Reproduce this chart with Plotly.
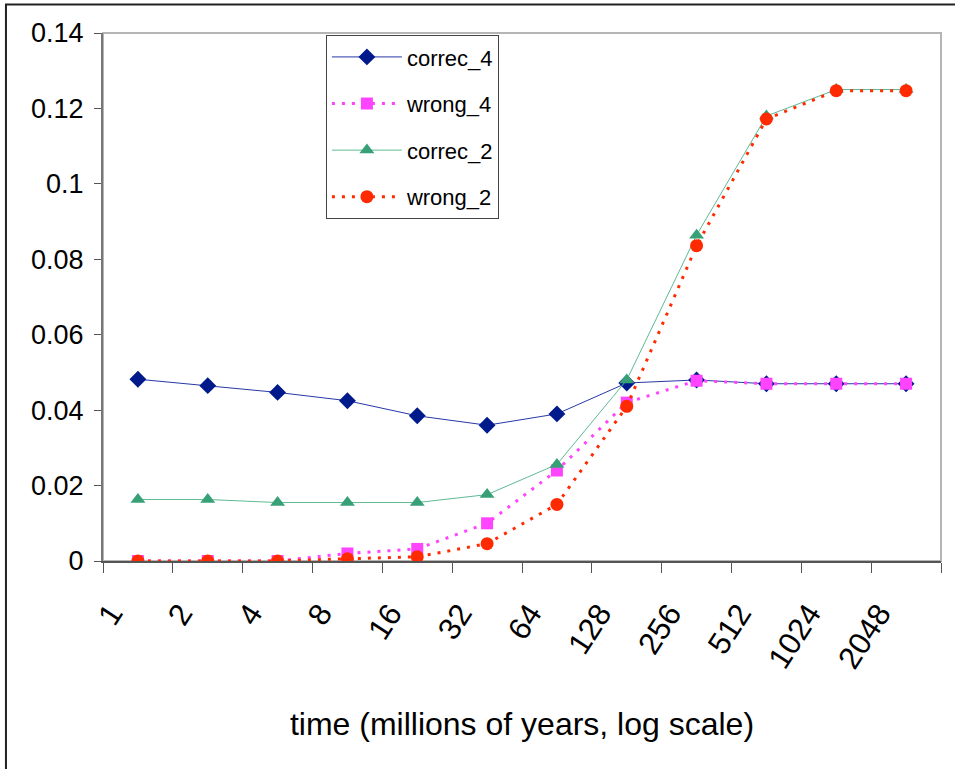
import plotly.graph_objects as go

categories = ["1", "2", "4", "8", "16", "32", "64", "128", "256", "512", "1024", "2048"]
correc_4 = [0.0482, 0.0465, 0.0447, 0.0425, 0.0385, 0.0360, 0.0390, 0.0472, 0.0480, 0.0470, 0.0470, 0.0470]
wrong_4 = [0.0, 0.0, 0.0, 0.0020, 0.0032, 0.0100, 0.0240, 0.0420, 0.0478, 0.0470, 0.0470, 0.0470]
correc_2 = [0.0163, 0.0163, 0.0155, 0.0155, 0.0155, 0.0176, 0.0256, 0.0480, 0.0864, 0.1180, 0.1250, 0.1250]
wrong_2 = [0.0, 0.0, 0.0, 0.0006, 0.0011, 0.0046, 0.0150, 0.0410, 0.0836, 0.1172, 0.1247, 0.1247]
y_ticks = [0, 0.02, 0.04, 0.06, 0.08, 0.1, 0.12, 0.14]
y_ticktext = ["0", "0.02", "0.04", "0.06", "0.08", "0.1", "0.12", "0.14"]

FONT = "Liberation Sans, Arial, sans-serif"

fig = go.Figure()
fig.add_trace(go.Scatter(
    x=categories, y=correc_4, name="correc_4", mode="lines+markers",
    line=dict(color="#2838A8", width=1),
    marker=dict(symbol="diamond", size=13, color="#001A8C"),
    legendgroup="a"))
fig.add_trace(go.Scatter(
    x=categories, y=wrong_4, name="wrong_4", mode="lines+markers",
    line=dict(color="#FF44FF", width=3, dash="3px,7px"),
    marker=dict(symbol="square", size=12, color="#FF44FF"),
    legendgroup="b"))
fig.add_trace(go.Scatter(
    x=categories, y=correc_2, name="correc_2", mode="lines+markers",
    line=dict(color="#5DBB94", width=1),
    marker=dict(symbol="triangle-up", size=13, color="#38A077"),
    legendgroup="c"))
fig.add_trace(go.Scatter(
    x=categories, y=wrong_2, name="wrong_2", mode="lines+markers",
    line=dict(color="#FF2A00", width=3, dash="3px,7px"),
    marker=dict(symbol="circle", size=13, color="#FF2A00"),
    legendgroup="d"))

fig.update_layout(
    width=955, height=769,
    margin=dict(l=103, r=14, t=33, b=208, autoexpand=False),
    paper_bgcolor="white", plot_bgcolor="white",
    font=dict(family=FONT, color="black"),
    showlegend=True,
    legend=dict(
        x=0.266, y=0.996, xanchor="left", yanchor="top",
        bordercolor="#444444", borderwidth=1, bgcolor="white",
        font=dict(size=22, family=FONT),
        tracegroupgap=15, itemwidth=70, traceorder="grouped",
    ),
    xaxis=dict(
        type="category", categoryorder="array", categoryarray=categories,
        range=[-0.5, 11.5], tickson="boundaries", ticks="outside", ticklen=10,
        tickcolor="#555555", tickwidth=1, automargin=False,
        showline=True, linecolor="#555555", linewidth=2,
        showgrid=False, zeroline=False,
        tickangle=-57, tickfont=dict(size=31, family=FONT),
        ticklabelstandoff=20, ticklabelshift=-27,
        title=dict(text="time (millions of years, log scale)", font=dict(size=32, family=FONT), standoff=39),
    ),
    yaxis=dict(
        range=[0, 0.14], tickvals=y_ticks, ticktext=y_ticktext, automargin=False,
        ticks="outside", ticklen=7, tickcolor="#555555", tickwidth=1,
        showline=True, linecolor="#777777", linewidth=2,
        showgrid=False, zeroline=False,
        tickfont=dict(size=27, family=FONT), ticklabelstandoff=5,
    ),
    shapes=[
        dict(type="rect", xref="paper", yref="paper", x0=0, x1=1, y0=0, y1=1,
             line=dict(color="#B5B5B5", width=2), layer="below"),
        dict(type="rect", xref="paper", yref="paper", x0=-0.1158, x1=1.3, y0=-1.0, y1=1.0540,
             line=dict(color="#222222", width=2), layer="below"),
    ],
)

fig.write_html(
    "out.html",
    config={"displayModeBar": False},
    post_script="document.body.style.margin='0px';document.body.style.overflow='hidden';",
)
